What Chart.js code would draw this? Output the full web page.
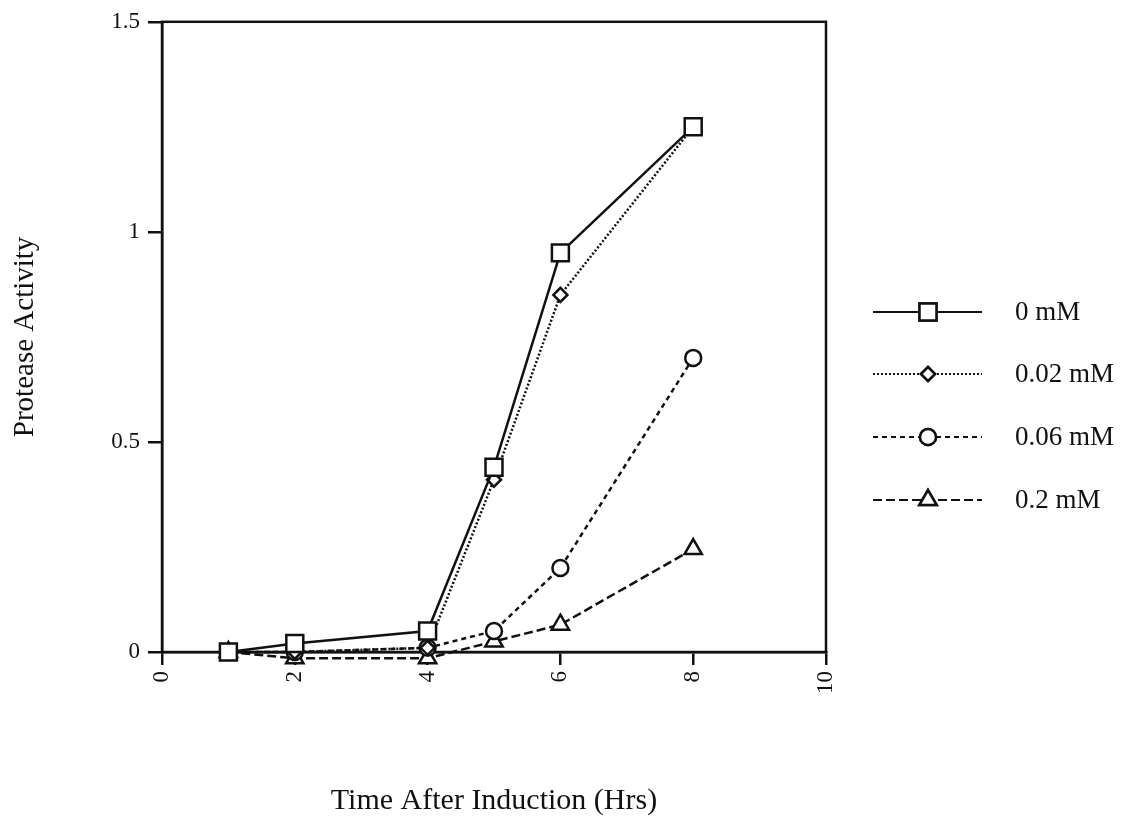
<!DOCTYPE html>
<html>
<head>
<meta charset="utf-8">
<script src="https://cdn.jsdelivr.net/npm/chart.js@4.4.1/dist/chart.umd.min.js"></script>
<style>
  html, body { margin: 0; padding: 0; background: #fff; }
  #wrap { width: 1145px; height: 823px; }
</style>
</head>
<body>
<div id="wrap"><canvas id="grafico"></canvas></div>
<script>
// Datos
const horas = [1, 2, 4, 5, 6, 8];
const serie0mM = [0, 0.02, 0.05, 0.44, 0.95, 1.25];
const serie002mM = [0, 0, 0.01, 0.41, 0.85, 1.25];
const serie006mM = [0, 0, 0.01, 0.05, 0.2, 0.7];
const serie02mM = [0, -0.015, -0.015, 0.025, 0.065, 0.245];
const etiquetas = ["0 mM", "0.02 mM", "0.06 mM", "0.2 mM"];
const ticksY = [0, 0.5, 1, 1.5];
const ticksX = [0, 2, 4, 6, 8, 10];

const fuente = "'Liberation Serif', 'Times New Roman', serif";

function puntos(valores) {
    return horas.map((h, i) => ({ x: h, y: valores[i] }));
}

function dataset(label, valores, estilo, radio, dash) {
    return {
        label: label,
        data: puntos(valores),
        borderColor: "#111",
        borderWidth: 2.5,
        borderDash: dash,
        pointStyle: estilo,
        pointRadius: radio,
        pointHoverRadius: radio,
        pointBackgroundColor: "#fff",
        pointBorderColor: "#111",
        pointBorderWidth: 2.5,
        tension: 0,
        fill: false,
        clip: false,
    };
}

// Marco superior y derecho
const marco = {
    id: "marco",
    beforeDatasetsDraw(chart) {
        const { ctx, chartArea } = chart;
        ctx.save();
        ctx.strokeStyle = "#111";
        ctx.lineWidth = 2.5;
        ctx.strokeRect(chartArea.left, chartArea.top, chartArea.right - chartArea.left, chartArea.bottom - chartArea.top);
        ctx.restore();
    },
};

// Leyenda con línea y marcador al centro
const leyenda = {
    id: "leyenda",
    afterDraw(chart) {
        const { ctx, chartArea } = chart;
        const x0 = chartArea.right + 47;
        const x1 = x0 + 109;
        const xm = x0 + 55;
        const filas = [312, 374, 437, 500];
        ctx.save();
        chart.data.datasets.forEach((ds, i) => {
            const y = filas[i];
            ctx.strokeStyle = "#111";
            ctx.lineWidth = 2;
            ctx.setLineDash(ds.borderDash || []);
            ctx.beginPath();
            ctx.moveTo(x0, y);
            ctx.lineTo(x1, y);
            ctx.stroke();
            ctx.setLineDash([]);
            ctx.fillStyle = "#fff";
            ctx.lineWidth = 2.5;
            Chart.helpers.drawPoint(ctx, { pointStyle: ds.pointStyle, radius: ds.pointRadius, rotation: 0, borderWidth: 2.5 }, xm, y);
            ctx.fill();
            ctx.stroke();
            ctx.fillStyle = "#111";
            ctx.font = "27px " + fuente;
            ctx.textBaseline = "middle";
            ctx.fillText(ds.label, x0 + 142, y + 1);
        });
        ctx.restore();
    },
};

const config = {
    type: "line",
    data: {
        datasets: [
            dataset(etiquetas[0], serie0mM, "rect", 12, []),
            dataset(etiquetas[1], serie002mM, "rectRot", 7, [2, 2]),
            dataset(etiquetas[2], serie006mM, "circle", 8, [5, 4]),
            dataset(etiquetas[3], serie02mM, "triangle", 10, [9, 4]),
        ],
    },
    options: {
        responsive: true,
        maintainAspectRatio: false,
        animation: false,
        layout: { padding: { top: 17, right: 319, left: 0, bottom: 0 } },
        plugins: { legend: { display: false }, tooltip: { enabled: false } },
        scales: {
            x: {
                type: "linear",
                min: 0,
                max: 10,
                afterFit(scale) { scale.height = 171; },
                afterBuildTicks(scale) { scale.ticks = ticksX.map((v) => ({ value: v })); },
                ticks: {
                    color: "#111",
                    font: { family: fuente, size: 23 },
                    minRotation: 90,
                    maxRotation: 90,
                    padding: 6,
                    callback: (v) => String(v),
                },
                grid: { drawOnChartArea: false, drawTicks: true, tickLength: 13, color: "#111", lineWidth: 2.5 },
                border: { display: true, color: "#111", width: 2.5 },
                title: {
                    display: true,
                    text: "Time After Induction (Hrs)",
                    color: "#111",
                    font: { family: fuente, size: 30 },
                    padding: { top: 0, bottom: 4 },
                },
            },
            y: {
                min: 0,
                max: 1.5,
                afterFit(scale) { scale.width = 162; },
                afterBuildTicks(scale) { scale.ticks = ticksY.map((v) => ({ value: v })); },
                ticks: {
                    color: "#111",
                    font: { family: fuente, size: 23 },
                    padding: 8,
                    callback: (v) => String(v),
                },
                grid: { drawOnChartArea: false, drawTicks: true, tickLength: 14, color: "#111", lineWidth: 2.5 },
                border: { display: true, color: "#111", width: 2.5 },
                title: {
                    display: true,
                    text: "Protease Activity",
                    color: "#111",
                    font: { family: fuente, size: 29 },
                    padding: { top: 8, bottom: 0 },
                },
            },
        },
    },
    plugins: [marco, leyenda],
};

new Chart(document.getElementById("grafico").getContext("2d"), config);
</script>
</body>
</html>
